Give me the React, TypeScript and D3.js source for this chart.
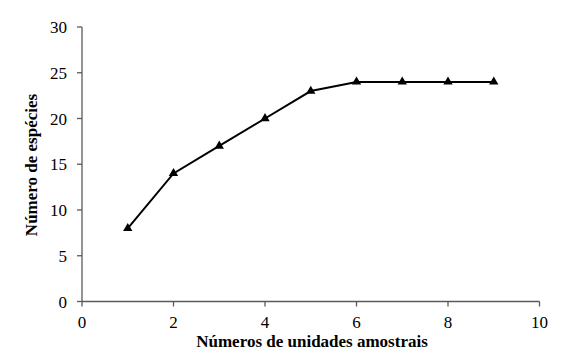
import React from "react";
import * as d3 from "d3";

const xValues = [1, 2, 3, 4, 5, 6, 7, 8, 9];
const yValues = [8, 14, 17, 20, 23, 24, 24, 24, 24];
const xTicks = [0, 2, 4, 6, 8, 10];
const yTicks = [0, 5, 10, 15, 20, 25, 30];
const xTitle = "Números de unidades amostrais";
const yTitle = "Número de espécies";

export default function App() {
  const W = 562, H = 356;
  const x = d3.scaleLinear().domain([0, 10]).range([82, 539.5]);
  const y = d3.scaleLinear().domain([0, 30]).range([301.5, 27]);
  const pts = xValues.map((v, i) => [x(v), y(yValues[i])] as [number, number]);
  const line = d3.line()(pts) || "";
  const tri = d3.symbol().type(d3.symbolTriangle).size(38)() || "";
  const axisColor = "#5a5a5a";
  const font = "Liberation Serif";
  return (
    <svg width={W} height={H} style={{ position: "absolute", left: 0, top: 0 }}>
      <rect width={W} height={H} fill="#fff" />
      <line x1={x(0)} x2={x(10)} y1={y(0)} y2={y(0)} stroke={axisColor} strokeWidth={1.3} />
      <line x1={x(0)} x2={x(0)} y1={y(0)} y2={y(30)} stroke={axisColor} strokeWidth={1.3} />
      {xTicks.map((t) => (
        <g key={"x" + t}>
          <line x1={x(t)} x2={x(t)} y1={y(0)} y2={y(0) + 5} stroke={axisColor} strokeWidth={1.3} />
          <text x={x(t)} y={327.5} textAnchor="middle" fontFamily={font} fontSize={17} fill="#000">{t}</text>
        </g>
      ))}
      {yTicks.map((t) => (
        <g key={"y" + t}>
          <line x1={x(0) - 5} x2={x(0)} y1={y(t)} y2={y(t)} stroke={axisColor} strokeWidth={1.3} />
          <text x={67} y={y(t) + 6} textAnchor="end" fontFamily={font} fontSize={17} fill="#000">{t}</text>
        </g>
      ))}
      <path d={line} fill="none" stroke="#000" strokeWidth={2} />
      {pts.map((p, i) => (
        <path key={i} d={tri} transform={`translate(${p[0]},${p[1]})`} fill="#000" />
      ))}
      <text x={312} y={347} textAnchor="middle" fontFamily={font} fontSize={17} fontWeight="bold" fill="#000">{xTitle}</text>
      <text transform={`translate(37,${165}) rotate(-90)`} textAnchor="middle" fontFamily={font} fontSize={17} fontWeight="bold" fill="#000">{yTitle}</text>
    </svg>
  );
}
